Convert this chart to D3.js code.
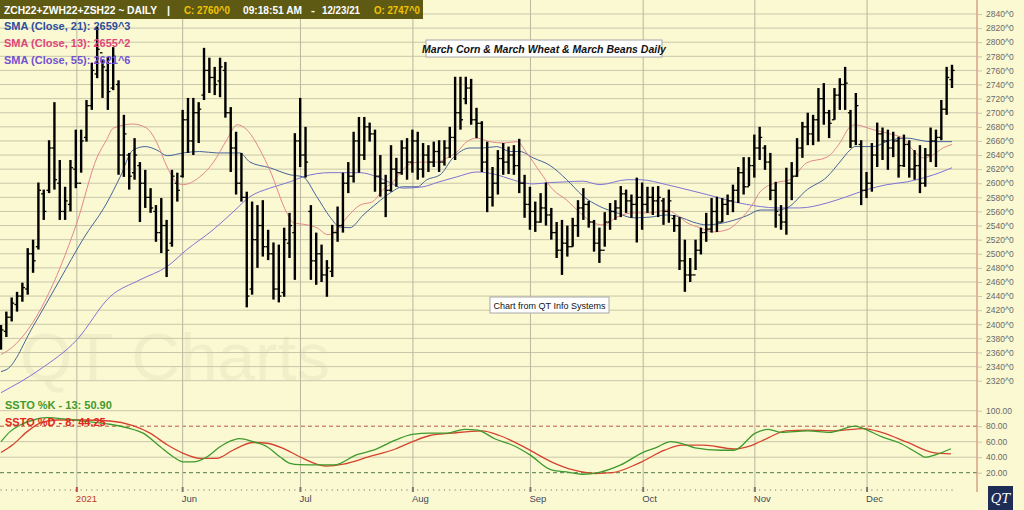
<!DOCTYPE html>
<html><head><meta charset="utf-8">
<script src="https://cdn.jsdelivr.net/npm/d3@7"></script>
<style>body{margin:0;background:#FBF9D2;}svg{display:block;font-family:Arial,"Liberation Sans",sans-serif;}</style>
</head><body><svg id="c" width="1024" height="510"></svg>
<script>
// ---- data ----
const highs = [2399,2418,2438,2446,2459,2508,2520,2601,2591,2661,2715,2633,2595,2633,2676,2676,2718,2771,2822,2775,2779,2793,2746,2697,2643,2664,2630,2619,2593,2569,2579,2548,2619,2615,2704,2721,2721,2715,2792,2778,2765,2778,2772,2708,2673,2643,2588,2574,2569,2576,2534,2516,2513,2537,2558,2671,2721,2680,2569,2530,2513,2491,2541,2567,2615,2630,2673,2694,2694,2686,2676,2640,2612,2654,2636,2661,2664,2676,2673,2657,2654,2659,2661,2661,2680,2751,2751,2751,2748,2707,2688,2659,2623,2647,2657,2652,2654,2663,2612,2595,2574,2586,2601,2565,2545,2548,2540,2551,2576,2593,2575,2548,2537,2559,2572,2576,2596,2591,2584,2608,2601,2595,2595,2596,2579,2591,2555,2552,2520,2494,2520,2537,2558,2579,2581,2579,2584,2598,2623,2637,2637,2669,2680,2654,2643,2602,2569,2622,2630,2664,2687,2700,2697,2735,2742,2704,2735,2749,2765,2704,2728,2661,2616,2657,2686,2679,2676,2673,2666,2669,2661,2647,2654,2650,2679,2676,2718,2765,2768];
const lows = [2364,2382,2404,2418,2432,2442,2473,2506,2548,2586,2591,2548,2548,2560,2593,2615,2659,2704,2749,2721,2704,2732,2612,2609,2591,2605,2545,2565,2558,2517,2501,2467,2510,2574,2608,2643,2640,2657,2718,2728,2725,2722,2693,2616,2584,2574,2424,2442,2480,2496,2491,2435,2431,2439,2494,2463,2623,2608,2463,2456,2460,2439,2467,2517,2530,2586,2601,2615,2633,2659,2588,2581,2552,2588,2595,2612,2605,2615,2605,2608,2616,2623,2616,2625,2636,2633,2676,2712,2683,2664,2616,2559,2567,2584,2612,2613,2612,2586,2551,2534,2531,2544,2540,2520,2494,2470,2496,2510,2524,2548,2537,2503,2487,2510,2534,2548,2552,2558,2551,2516,2534,2558,2555,2552,2541,2544,2531,2477,2446,2460,2477,2499,2517,2530,2531,2545,2555,2559,2572,2584,2596,2608,2633,2619,2576,2537,2534,2527,2576,2609,2636,2654,2654,2659,2683,2664,2690,2704,2704,2650,2654,2569,2579,2588,2623,2633,2619,2637,2608,2623,2608,2605,2586,2595,2630,2623,2661,2697,2735];
const opens = [2370,2390,2410,2428,2440,2450,2500,2510,2585,2590,2650,2600,2560,2570,2620,2600,2665,2710,2755,2785,2760,2735,2740,2640,2640,2615,2625,2600,2580,2560,2530,2540,2515,2600,2610,2690,2660,2700,2725,2760,2750,2745,2760,2700,2650,2600,2580,2450,2520,2540,2510,2500,2450,2445,2515,2530,2660,2640,2560,2490,2500,2470,2475,2530,2540,2600,2610,2660,2640,2680,2670,2610,2600,2590,2620,2615,2650,2630,2660,2620,2640,2630,2645,2630,2650,2665,2700,2720,2735,2690,2685,2630,2580,2600,2635,2630,2640,2625,2600,2570,2560,2545,2565,2555,2530,2505,2515,2510,2540,2565,2570,2545,2515,2505,2545,2560,2565,2585,2575,2570,2580,2570,2580,2575,2575,2560,2550,2540,2490,2470,2470,2505,2530,2535,2560,2545,2570,2575,2590,2615,2595,2625,2650,2650,2630,2590,2555,2545,2600,2610,2650,2680,2670,2690,2720,2700,2690,2725,2740,2700,2660,2655,2590,2600,2640,2670,2660,2650,2660,2625,2655,2620,2625,2600,2640,2660,2665,2705,2747];
const closes = [2392,2410,2430,2440,2452,2500,2490,2590,2560,2650,2605,2560,2575,2622,2600,2660,2710,2760,2790,2765,2730,2780,2640,2670,2610,2640,2600,2580,2565,2530,2540,2505,2610,2590,2690,2660,2700,2705,2760,2750,2740,2765,2700,2650,2600,2580,2440,2520,2540,2510,2500,2450,2440,2520,2540,2660,2640,2630,2490,2500,2470,2480,2530,2540,2600,2610,2660,2640,2680,2670,2610,2600,2590,2620,2615,2650,2630,2660,2620,2640,2630,2645,2630,2650,2665,2700,2690,2735,2690,2685,2630,2580,2600,2635,2630,2640,2625,2600,2570,2560,2545,2565,2555,2530,2505,2515,2510,2540,2565,2570,2545,2515,2505,2545,2560,2565,2585,2575,2570,2580,2570,2580,2575,2580,2560,2575,2540,2490,2470,2470,2505,2530,2535,2560,2545,2570,2575,2590,2615,2595,2625,2650,2665,2630,2590,2560,2545,2600,2610,2650,2680,2670,2690,2720,2700,2685,2725,2740,2742,2660,2710,2590,2600,2640,2670,2660,2650,2660,2625,2655,2620,2625,2600,2640,2660,2665,2705,2750,2760];

// moving averages: [bar index, price]
const sma13 = [[0,2357],[2.2,2368],[14.2,2544],[18,2637],[19.8,2662],[21,2678],[24.7,2684],[27.3,2678],[29.2,2657],[31.1,2623],[32.9,2601],[34.1,2598],[37.2,2609],[39.7,2629],[42.3,2662],[44.2,2683],[46,2676],[48.5,2647],[50.3,2619],[53.5,2558],[54.7,2544],[57.3,2541],[59.1,2537],[61.2,2527],[62.9,2534],[64.8,2552],[67.2,2569],[69.6,2574],[71.5,2591],[73.4,2602],[75.2,2619],[77.1,2629],[79,2630],[81.6,2630],[83.5,2636],[85.3,2644],[87.2,2659],[89.1,2664],[91.5,2659],[94,2657],[96.6,2659],[98.4,2643],[100.9,2616],[103.3,2591],[105.9,2576],[108.4,2558],[110.8,2544],[112.7,2541],[115.3,2552],[118.3,2558],[121.5,2558],[124.6,2562],[126.5,2555],[128.4,2544],[130.8,2537],[133.3,2531],[135.9,2534],[138.3,2548],[140.6,2569],[142.1,2588],[145.2,2601],[147.7,2605],[150.8,2629],[154.6,2637],[157,2657],[158.9,2680],[159.8,2683],[163.2,2676],[166.9,2669],[168.8,2664],[170.7,2647],[172.6,2636],[174.4,2640],[176.3,2650],[178,2655]];
const sma21 = [[0,2333],[1.1,2336],[6,2397],[11,2463],[15.3,2520],[19.8,2572],[22.3,2609],[24.7,2647],[27,2652],[29.2,2647],[31.1,2639],[34.1,2643],[37.2,2645],[40.4,2643],[44.7,2643],[46.6,2630],[50.3,2622],[54.1,2612],[56.5,2609],[59.1,2581],[61.6,2552],[63.4,2538],[65.3,2537],[67.8,2555],[70.4,2572],[72.8,2586],[75.2,2595],[77.9,2595],[79.7,2605],[82.2,2612],[84.6,2636],[87.8,2650],[90.2,2650],[92.8,2652],[95.3,2645],[97.1,2645],[99.6,2636],[102.8,2625],[105.9,2605],[108.9,2582],[112.1,2567],[115.3,2558],[118.3,2551],[121.5,2552],[124.6,2555],[127.1,2552],[129.5,2545],[132.1,2541],[135.9,2545],[139.6,2554],[142.1,2562],[145.2,2562],[147.1,2565],[150.9,2591],[154.6,2609],[157,2630],[158.9,2647],[159.8,2652],[163.2,2652],[166.4,2661],[169.6,2664],[172,2661],[173.9,2659],[178,2659]];
const sma55 = [[0,2303],[7.3,2336],[14.2,2378],[20.4,2439],[26,2463],[31.1,2482],[34.8,2506],[39.7,2534],[43.4,2559],[46.6,2581],[50.3,2593],[54.1,2602],[56.5,2609],[61.6,2615],[67.2,2615],[70.4,2609],[72.8,2601],[75.2,2593],[79,2595],[81.6,2601],[85.3,2609],[89.1,2616],[92.8,2612],[95.3,2606],[97.1,2602],[99.6,2599],[102.8,2601],[105.9,2602],[108.9,2603],[112.1,2598],[117.2,2605],[119.6,2605],[124.6,2598],[128.4,2591],[132.1,2584],[137,2574],[142.1,2567],[145.2,2565],[149.5,2565],[154.6,2572],[158.3,2581],[162.1,2591],[165.8,2598],[169.6,2602],[173.3,2609],[175.7,2615],[178,2622]];

// slow stochastic: [bar index, value]
const stochK = [[0,60],[1.7,73],[3.6,81.5],[6,88],[8.6,91],[12.4,89],[16.1,86],[20.4,82.5],[23.6,78],[26.6,71],[29.8,53.5],[32.2,40.6],[34.1,34],[35.9,34],[38.6,40.6],[41,53.5],[43.4,62],[44.7,64],[47.2,60],[49.8,53.5],[52.2,40.6],[54.1,32],[55.9,30.3],[59.2,30],[62.4,30],[66.5,43],[69.7,49],[73.8,62],[77,69.5],[80.3,71],[83.5,71],[86.8,76],[89.2,75],[92.5,63.5],[95.7,55.7],[99,43],[103,23.5],[106.3,20.5],[108.7,18],[112,20.5],[116,30],[120.1,46],[122.5,52],[125.4,60],[128.2,56],[129.9,52],[134.7,49],[137.2,49],[141.2,71],[143.6,76],[146.1,72],[151,74],[155,72],[159.9,80],[161.5,77],[164.8,66.5],[168,59],[172.1,43],[172.9,40],[175.3,44],[177.8,50.9]];
const stochD = [[0,46],[2.2,56],[4.9,73],[7.3,84],[10.5,88],[15.3,88],[20.4,86.7],[24.7,80.6],[27.9,71],[31.1,56],[34.1,45],[37.2,38.6],[40.4,38.6],[43.4,49],[47.2,59],[49.8,58],[52.8,51.5],[55.9,40.6],[60.8,28.6],[64.1,31],[68.9,40.6],[73.8,50.6],[77,60],[80.3,68],[84.3,71],[90,74],[93.3,68],[98.2,52],[103,34],[107.1,23.5],[111.2,19],[114.4,20],[119.3,32],[124.2,49],[127.4,55.7],[131.5,55.7],[137.2,50.6],[140.4,55],[143.6,65],[146.9,74],[151,75],[155.8,74],[161.5,77],[164.8,72],[169.7,59],[174.5,46],[177.8,44.25]];

const monthLabels = ["2021","Jun","Jul","Aug","Sep","Oct","Nov","Dec"];
const monthIdx = [14.2,34.0,56.05,77.1,99.1,120.2,141.1,162.1];
const priceTicks = d3.range(2320, 2841, 20);
const stochTicks = [100,80,60,40,20];

// ---- drawing ----
const svg = d3.select("#c");
const W = 1024, axisX = 977;
const x = d3.scaleLinear().domain([0,178]).range([1,952]);
const y = d3.scaleLinear().domain([2320,2840]).range([380.7,14]);
const ys = d3.scaleLinear().domain([20,100]).range([472.7,410.7]);

svg.append("rect").attr("width",W).attr("height",510).attr("fill","#FBF9D2");

// watermark
svg.append("text").attr("x",20).attr("y",380).attr("font-size",66).attr("fill","#000").attr("opacity",0.035)
  .attr("textLength",310).attr("lengthAdjust","spacingAndGlyphs")
  .attr("font-family","Arial, sans-serif").text("QT Charts");

// horizontal grid (price)
svg.append("g").selectAll("line").data(priceTicks).join("line")
  .attr("x1",0).attr("x2",axisX).attr("y1",d=>y(d)).attr("y2",d=>y(d))
  .attr("stroke","#C9C7A9").attr("stroke-width",1);
// stoch grid
svg.append("g").selectAll("line").data(stochTicks).join("line")
  .attr("x1",0).attr("x2",axisX).attr("y1",d=>ys(d)).attr("y2",d=>ys(d))
  .attr("stroke",d=>d===80?"#B5594A":d===20?"#4E7A48":"#C9C7A9")
  .attr("stroke-dasharray",d=>(d===80||d===20)?"4,3":null)
  .attr("stroke-width",1);

// vertical month grid
svg.append("g").selectAll("line").data(monthIdx).join("line")
  .attr("x1",d=>x(d)).attr("x2",d=>x(d)).attr("y1",0).attr("y2",488)
  .attr("stroke","#B9B79E").attr("stroke-width",1);

// right axis line
svg.append("line").attr("x1",axisX).attr("x2",axisX).attr("y1",0).attr("y2",492)
  .attr("stroke","#D08A78").attr("stroke-width",1.2);

// price axis
const pa = svg.append("g").attr("transform",`translate(${axisX},0)`)
  .call(d3.axisRight(y).tickValues(priceTicks).tickSize(5).tickPadding(4).tickFormat(d=>d+"^0"));
pa.select(".domain").remove();
pa.selectAll("line").attr("stroke","#C9C7A9");
pa.selectAll("text").attr("fill","#6A6A6A").attr("font-size",8.5).attr("font-family","Arial, sans-serif");
const sa = svg.append("g").attr("transform",`translate(${axisX},0)`)
  .call(d3.axisRight(ys).tickValues(stochTicks).tickSize(5).tickPadding(4).tickFormat(d3.format(".2f")));
sa.select(".domain").remove();
sa.selectAll("line").attr("stroke","#C9C7A9");
sa.selectAll("text").attr("fill","#6A6A6A").attr("font-size",8.5).attr("font-family","Arial, sans-serif");

// moving averages
const lp = d3.line().x(d=>x(d[0])).y(d=>y(d[1])).curve(d3.curveMonotoneX);
svg.append("path").attr("d",lp(sma55)).attr("fill","none").attr("stroke","#7F74D6").attr("stroke-width",1);
svg.append("path").attr("d",lp(sma21)).attr("fill","none").attr("stroke","#45639C").attr("stroke-width",1);
svg.append("path").attr("d",lp(sma13)).attr("fill","none").attr("stroke","#E4878C").attr("stroke-width",1);

// OHLC bars
const bars = svg.append("g");
highs.forEach((h,i)=>{
  const cx = x(i);
  bars.append("line").attr("x1",cx).attr("x2",cx).attr("y1",y(h)).attr("y2",y(lows[i]))
    .attr("stroke","#000").attr("stroke-width",2.4);
  bars.append("line").attr("x1",cx-2.6).attr("x2",cx).attr("y1",y(opens[i])).attr("y2",y(opens[i]))
    .attr("stroke","#000").attr("stroke-width",1.3);
  bars.append("line").attr("x1",cx).attr("x2",cx+2.6).attr("y1",y(closes[i])).attr("y2",y(closes[i]))
    .attr("stroke","#000").attr("stroke-width",1.3);
});

// stochastic lines
const ls = d3.line().x(d=>x(d[0])).y(d=>ys(d[1])).curve(d3.curveMonotoneX);
svg.append("path").attr("d",ls(stochD)).attr("fill","none").attr("stroke","#D4432E").attr("stroke-width",1.3);
svg.append("path").attr("d",ls(stochK)).attr("fill","none").attr("stroke","#3E9A2C").attr("stroke-width",1.3);

// bottom time axis: dotted ticks per bar
svg.append("g").selectAll("line").data(d3.range(0,179)).join("line")
  .attr("x1",d=>x(d)).attr("x2",d=>x(d)).attr("y1",489).attr("y2",491)
  .attr("stroke","#B0AE98").attr("stroke-width",1);
svg.append("g").selectAll("rect").data(monthIdx).join("rect")
  .attr("x",d=>x(d)-1).attr("y",487).attr("width",2).attr("height",5)
  .attr("fill",(d,i)=>i===0?"#C0504A":"#7A7A7A");
svg.append("g").selectAll("text").data(monthLabels).join("text")
  .attr("x",(d,i)=>x(monthIdx[i])-1).attr("y",502).attr("font-size",9.5)
  .attr("fill",(d,i)=>i===0?"#C0392B":"#3E4A5A").text(d=>d);

// header
svg.append("rect").attr("x",0).attr("y",0).attr("width",423).attr("height",19).attr("fill","#5E5A14");
const hdrParts = [["ZCH22+ZWH22+ZSH22 ~ DAILY",4,"#FFFFFF",153],["|",167,"#FFFFFF",3],["C: 2760^0",184,"#F2C400",46],
  ["09:18:51 AM",243,"#FFFFFF",59],["-",311,"#FFFFFF",4],["12/23/21",322,"#FFFFFF",38],["O: 2747^0",374,"#F2C400",46]];
svg.append("g").selectAll("text").data(hdrParts).join("text")
  .attr("x",d=>d[1]).attr("y",13.5).attr("font-size",11).attr("font-weight","bold").attr("fill",d=>d[2])
  .attr("textLength",d=>d[3]).attr("lengthAdjust","spacingAndGlyphs").text(d=>d[0]);

// legends
const leg = [["SMA (Close, 21): 2659^3","#2D4F9E",29.5],["SMA (Close, 13): 2655^2","#E0457A",47],["SMA (Close, 55): 2621^6","#7352D2",64]];
leg.forEach(l=>svg.append("text").attr("x",4).attr("y",l[2]).attr("font-size",11).attr("font-weight","bold").attr("fill",l[1]).text(l[0]));
svg.append("text").attr("x",5).attr("y",409).attr("font-size",11).attr("font-weight","bold").attr("fill","#3E9A2C").text("SSTO %K - 13: 50.90");
svg.append("text").attr("x",5).attr("y",426).attr("font-size",11).attr("font-weight","bold").attr("fill","#E0281E").text("SSTO %D - 8: 44.25");

// title box
svg.append("rect").attr("x",426).attr("y",40).attr("width",236).attr("height",17).attr("fill","#FFFFFF").attr("stroke","#A8A8A8");
svg.append("text").attr("x",544).attr("y",52.5).attr("text-anchor","middle").attr("font-size",10.5)
  .attr("font-style","italic").attr("font-weight","bold").attr("fill","#111").text("March Corn & March Wheat & March Beans Daily");
// note box
svg.append("rect").attr("x",490).attr("y",297).attr("width",119).attr("height",16).attr("fill","#FFFFFF").attr("stroke","#A8A8A8");
svg.append("text").attr("x",549.5).attr("y",308.5).attr("text-anchor","middle").attr("font-size",9).attr("fill","#111").text("Chart from QT Info Systems");

// logo
svg.append("rect").attr("x",988).attr("y",486).attr("width",25).attr("height",24).attr("fill","#1E2D55");
svg.append("text").attr("x",1000.5).attr("y",503).attr("text-anchor","middle").attr("font-size",13)
  .attr("font-family","DejaVu Serif, serif").attr("font-style","italic").attr("fill","#FFFFFF").text("QT");
</script></body></html>
